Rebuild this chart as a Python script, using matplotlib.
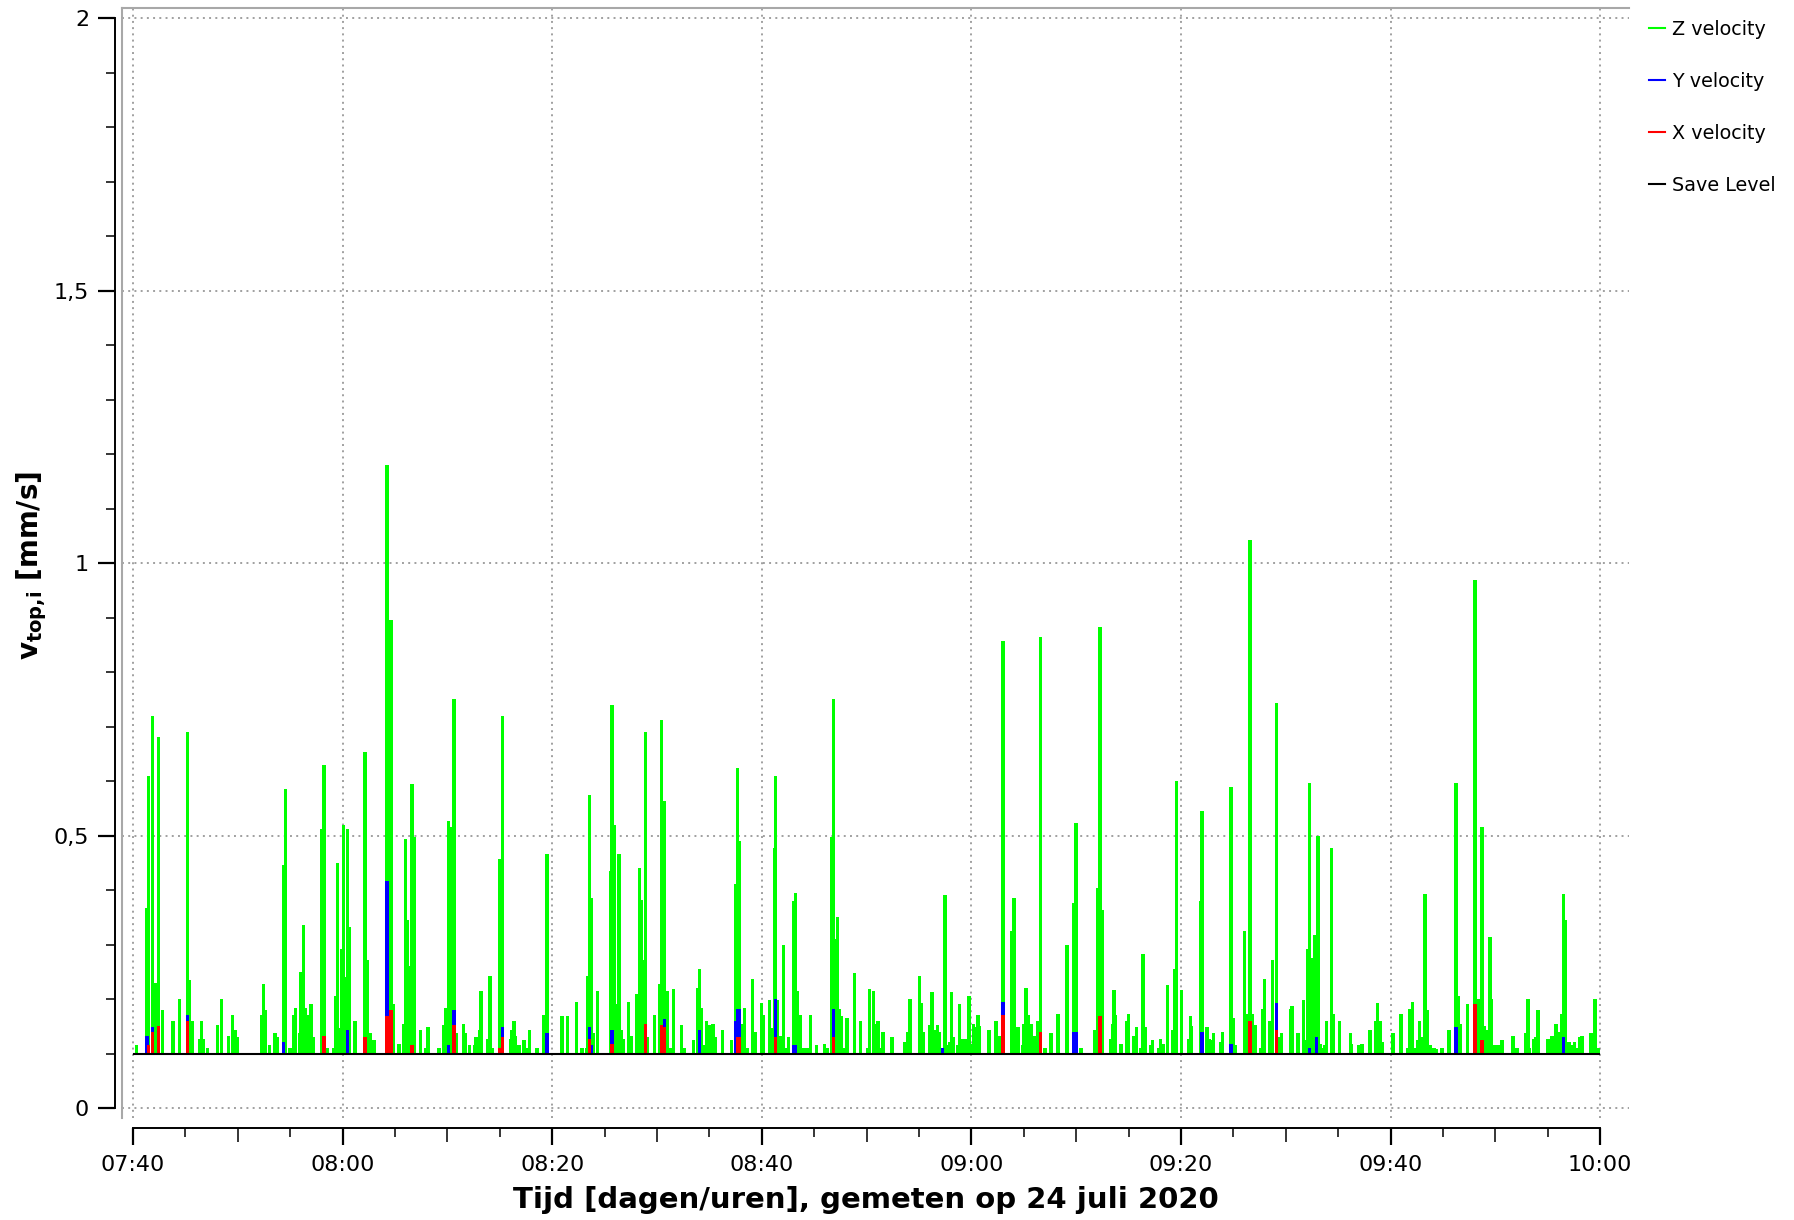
import matplotlib
matplotlib.use('Agg')
import numpy as np
import matplotlib.pyplot as plt
from matplotlib.lines import Line2D
from matplotlib.ticker import MultipleLocator, FuncFormatter

plt.rcParams['font.family'] = 'DejaVu Sans'
plt.rcParams['mathtext.fontset'] = 'dejavusans'

# time axis: minutes after 07:40 on 24 juli 2020
start_hour, start_min = 7, 40
save_level = 0.1

# Z velocity [mm/s]
z_t = [0.32, 1.34, 1.50, 1.85, 2.16, 2.45, 2.83, 3.82, 4.45, 5.22, 5.38, 5.66, 6.36, 6.55, 6.71, 7.09,
       8.08, 8.43, 9.10, 9.48, 9.76, 9.96, 12.28, 12.44, 12.63, 13.04, 13.55, 13.77, 14.38, 14.57, 14.98,
       15.30, 15.49, 15.90, 16.03, 16.25, 16.48, 16.70, 16.98, 17.21, 18.04, 18.23, 18.51, 19.18, 19.37,
       19.53, 19.75, 19.91, 20.07, 20.29, 20.48, 20.64, 21.18, 22.14, 22.36, 22.68, 23.00,
       24.23, 24.62, 24.87, 25.38, 25.86, 26.02, 26.21, 26.40, 26.62, 26.81, 27.45, 27.96, 28.15, 29.20,
       29.67, 29.80, 30.12, 30.44, 30.63, 30.82, 31.55, 31.74, 32.09, 32.57, 32.73, 33.08, 33.20, 33.87,
       34.06, 34.32, 35.02, 35.27, 36.00, 36.13, 36.35, 36.51, 36.83, 37.31, 37.63, 37.85, 38.55, 39.18,
       39.50, 40.93, 41.47, 42.30, 42.84, 43.29, 43.41, 43.57, 43.73, 43.96, 44.30, 45.55, 45.70, 45.90,
       46.02, 46.37, 46.63, 46.82,
       47.30, 47.55, 48.03, 48.31, 48.51, 48.70, 48.89, 49.11, 49.78, 50.26, 50.45, 50.73, 51.02, 51.30,
       51.59, 52.35, 52.64, 53.50, 53.88, 54.07, 54.23, 54.42, 54.74, 55.06, 55.34, 55.60, 56.27, 57.13,
       57.48, 57.70, 57.89, 58.08, 58.37, 58.59, 59.13, 59.38, 59.99, 60.18, 60.75, 60.97, 61.20, 61.29,
       61.48, 61.80, 62.06, 62.21, 62.56, 63.04, 63.23, 63.39, 63.71, 64.03, 64.31, 64.66, 65.24, 66.00,
       66.25, 66.70, 66.86, 67.05, 67.24, 67.40, 67.59, 67.84, 68.13, 68.86, 69.43, 70.13, 70.26,
       70.68, 70.90, 71.09, 71.31, 71.57, 72.43, 73.67, 73.95, 74.14, 75.03, 75.23, 75.45, 76.05, 76.24,
       76.37, 76.56, 76.78, 76.97, 77.23, 77.48, 77.77, 77.96, 78.12, 78.31, 78.72, 78.88, 79.14, 79.39,
       79.77, 80.06, 80.22, 80.41, 80.63, 80.79, 81.68, 82.35, 82.70, 83.02, 83.88, 84.07, 84.45, 84.86,
       84.99, 85.21, 85.40, 85.56, 85.75, 85.98, 86.13, 86.33, 86.61, 87.03, 87.60, 88.27, 89.12, 89.79,
       89.98, 90.46, 91.80, 92.08, 92.27, 92.46, 93.26, 93.45, 93.61,
       93.76, 94.27, 94.78, 94.97, 95.45, 95.73, 96.11, 96.37, 96.62, 97.07, 97.26, 97.86, 98.05, 98.31,
       98.75, 99.17, 99.36, 99.61, 100.06, 100.69, 100.89, 101.01, 101.84, 102.00, 102.48, 102.70, 102.98,
       103.14, 103.75, 103.94, 104.77, 104.96, 105.18, 106.10, 106.39, 106.58, 106.83, 107.15, 107.60,
       107.76, 107.95, 108.42, 108.77, 109.12, 109.41, 109.60, 110.43, 110.59, 111.16, 111.70, 111.89,
       112.11, 112.30, 112.49, 112.75, 112.91, 113.07, 113.26, 113.48, 113.67, 113.86, 114.40, 114.59,
       115.10, 116.15, 116.31, 116.92,
       117.27, 118.03, 118.60, 118.79, 118.99, 119.18, 120.23, 120.99, 121.66, 121.85, 122.13, 122.42,
       122.61, 122.80, 122.99, 123.28, 123.53, 123.76, 124.14, 124.33, 124.90, 125.57, 126.24, 126.43,
       126.62, 127.38, 128.05, 128.43, 128.72, 128.91, 129.20, 129.48, 129.64, 129.96, 130.28, 130.63,
       131.68, 131.96, 132.15, 132.92, 133.11, 133.27, 133.68, 133.87, 134.06, 135.02, 135.40, 135.59,
       135.78, 136.07, 136.35, 136.54, 136.73, 137.02, 137.31, 137.59, 137.88, 138.07, 138.26, 139.12,
       139.50, 139.79]
z_v = [0.115, 0.367, 0.61, 0.72, 0.23, 0.68, 0.18, 0.16, 0.20, 0.69, 0.235, 0.16, 0.126, 0.16, 0.126, 0.11,
       0.153, 0.20, 0.133, 0.17, 0.144, 0.13, 0.17, 0.228, 0.18, 0.115, 0.137, 0.13, 0.446, 0.585, 0.111,
       0.17, 0.184, 0.138, 0.25, 0.335, 0.184, 0.17, 0.19, 0.13, 0.512, 0.629, 0.111, 0.11, 0.206,
       0.45, 0.146, 0.292, 0.52, 0.24, 0.512, 0.333, 0.16, 0.653, 0.272, 0.137, 0.124,
       1.18, 0.896, 0.19, 0.118, 0.155, 0.493, 0.345, 0.26, 0.594, 0.497, 0.144, 0.111, 0.148, 0.11,
       0.153, 0.184, 0.526, 0.515, 0.75, 0.137, 0.155, 0.138, 0.115, 0.115, 0.13, 0.144, 0.214, 0.126,
       0.243, 0.11, 0.457, 0.72, 0.126, 0.144, 0.16, 0.133, 0.115, 0.124, 0.111, 0.144, 0.11, 0.17,
       0.466, 0.168, 0.168, 0.195, 0.11, 0.111, 0.243, 0.574, 0.386, 0.137, 0.214, 0.435, 0.74, 0.52,
       0.19, 0.466, 0.144, 0.126,
       0.195, 0.133, 0.21, 0.44, 0.382, 0.272, 0.69, 0.13, 0.17, 0.228, 0.712, 0.563, 0.214, 0.111,
       0.218, 0.153, 0.111, 0.124, 0.221, 0.255, 0.184, 0.115, 0.16, 0.153, 0.155, 0.13, 0.144, 0.124,
       0.411, 0.624, 0.49, 0.155, 0.184, 0.111, 0.236, 0.14, 0.192, 0.17, 0.199, 0.147, 0.477, 0.61,
       0.199, 0.133, 0.30, 0.111, 0.13, 0.38, 0.395, 0.214, 0.17, 0.11, 0.111, 0.17, 0.115, 0.118,
       0.111, 0.497, 0.75, 0.31, 0.35, 0.181, 0.168, 0.11, 0.166, 0.247, 0.16, 0.11, 0.218,
       0.214, 0.155, 0.16, 0.111, 0.14, 0.13, 0.122, 0.14, 0.20, 0.243, 0.192, 0.14, 0.153, 0.212,
       0.13, 0.144, 0.153, 0.14, 0.111, 0.39, 0.115, 0.122, 0.212, 0.13, 0.115, 0.19, 0.126, 0.126,
       0.206, 0.118, 0.155, 0.148, 0.17, 0.151, 0.144, 0.16, 0.133, 0.857, 0.324, 0.386, 0.148, 0.115,
       0.155, 0.221, 0.17, 0.14, 0.155, 0.133, 0.118, 0.16, 0.864, 0.11, 0.137, 0.172, 0.30, 0.376,
       0.523, 0.11, 0.144, 0.403, 0.882, 0.364, 0.126, 0.155, 0.217,
       0.17, 0.118, 0.16, 0.172, 0.133, 0.148, 0.11, 0.283, 0.148, 0.115, 0.124, 0.111, 0.126, 0.118,
       0.226, 0.144, 0.255, 0.60, 0.217, 0.126, 0.168, 0.151, 0.379, 0.545, 0.148, 0.126, 0.124,
       0.137, 0.122, 0.14, 0.589, 0.166, 0.115, 0.324, 0.172, 1.043, 0.172, 0.153, 0.111,
       0.181, 0.236, 0.16, 0.272, 0.743, 0.13, 0.138, 0.182, 0.188, 0.138, 0.198, 0.124,
       0.292, 0.596, 0.276, 0.317, 0.148, 0.50, 0.118, 0.11, 0.115, 0.16, 0.477, 0.172,
       0.16, 0.138, 0.118, 0.115,
       0.118, 0.144, 0.16, 0.192, 0.16, 0.122, 0.137, 0.172, 0.11, 0.182, 0.195, 0.111,
       0.124, 0.16, 0.13, 0.393, 0.18, 0.115, 0.111, 0.108, 0.11, 0.144, 0.596, 0.206,
       0.155, 0.19, 0.968, 0.20, 0.515, 0.151, 0.144, 0.314, 0.20, 0.115, 0.115, 0.124,
       0.133, 0.11, 0.111, 0.137, 0.20, 0.111, 0.126, 0.13, 0.18, 0.126, 0.133, 0.131,
       0.155, 0.14, 0.172, 0.393, 0.345, 0.122, 0.115, 0.122, 0.111, 0.13, 0.133, 0.137,
       0.20, 0.111]

# Y velocity [mm/s]
y_t = [1.34, 1.85, 5.22, 14.38, 20.48, 24.23, 30.12, 30.63, 35.27, 39.50, 43.57, 43.73, 45.70, 50.73,
       54.07, 57.48, 57.70, 57.89, 61.29, 63.04, 63.23, 66.86, 77.23, 83.02, 89.79, 89.98, 102.00,
       104.77, 109.12, 112.30, 112.91, 126.24, 136.54]
y_v = [0.133, 0.148, 0.17, 0.122, 0.144, 0.417, 0.115, 0.18, 0.148, 0.138, 0.148, 0.115, 0.144, 0.163,
       0.144, 0.16, 0.181, 0.181, 0.20, 0.115, 0.115, 0.182, 0.111, 0.195, 0.14, 0.14, 0.14,
       0.118, 0.192, 0.11, 0.13, 0.148, 0.13]

# X velocity [mm/s]
x_t = [1.50, 1.85, 2.45, 5.22, 18.23, 22.14, 24.23, 24.62, 26.62, 30.63, 35.02, 35.27, 43.57, 45.70,
       48.89, 50.45, 50.73, 57.70, 57.89, 61.29, 66.86, 83.02, 86.61, 92.27, 106.58, 109.12, 128.05, 128.72]
x_v = [0.115, 0.14, 0.15, 0.16, 0.133, 0.13, 0.168, 0.18, 0.115, 0.153, 0.11, 0.13, 0.126, 0.118,
       0.155, 0.153, 0.148, 0.13, 0.13, 0.13, 0.13, 0.17, 0.14, 0.168, 0.16, 0.144, 0.19, 0.124]

green, blue, red = '#00ff00', '#0000ff', '#ff0000'
grey = '#a8a8a8'

fig = plt.figure(figsize=(17.94, 12.2), dpi=100)
ax = fig.add_axes([122 / 1794, 1 - 1118 / 1220, 1507 / 1794, 1110.5 / 1220])

w = 0.3
ax.bar(z_t, np.array(z_v) - save_level, bottom=save_level, width=w, color=green, linewidth=0, zorder=2)
ax.bar(y_t, np.array(y_v) - save_level, bottom=save_level, width=w, color=blue, linewidth=0, zorder=2.1)
ax.bar(x_t, np.array(x_v) - save_level, bottom=save_level, width=w, color=red, linewidth=0, zorder=2.2)
ax.hlines(save_level, 0, 140, color='black', lw=1.5, zorder=3)

ax.set_xlim(-1.05, 142.75)
ax.set_ylim(-0.0183, 2.0193)

# detached black axes, grey frame on top/left
ax.spines['right'].set_visible(False)
ax.spines['top'].set_color(grey)
ax.spines['top'].set_linewidth(1.5)
for side, off in (('left', 5), ('bottom', 7.2)):
    ax.spines[side].set_position(('outward', off))
    ax.spines[side].set_linewidth(1.4)
    ax.spines[side].set_color('black')
ax.spines['left'].set_bounds(0, 2)
ax.spines['bottom'].set_bounds(0, 140)
ax.plot([0, 0], [0, 1], transform=ax.transAxes, color=grey, lw=1.5, clip_on=False, zorder=1)

ax.xaxis.set_major_locator(MultipleLocator(20))
ax.xaxis.set_minor_locator(MultipleLocator(5))
ax.yaxis.set_major_locator(MultipleLocator(0.5))
ax.yaxis.set_minor_locator(MultipleLocator(0.1))


def hhmm(m, pos):
    tot = start_hour * 60 + start_min + int(round(m))
    return f'{tot // 60:02d}:{tot % 60:02d}'


ax.xaxis.set_major_formatter(FuncFormatter(hhmm))
ax.yaxis.set_major_formatter(FuncFormatter(lambda v, p: f'{v:g}'.replace('.', ',')))
ax.tick_params(which='major', length=12.2, width=1.6, direction='out', labelsize=16)
ax.tick_params(which='minor', length=6.5, width=1.1, direction='out')
ax.tick_params(axis='y', which='major', pad=6.5)
ax.tick_params(axis='x', which='major', pad=7.5)

# 10 minute ticks a bit longer
for tick, loc in zip(ax.xaxis.get_minor_ticks(), ax.xaxis.get_minorticklocs()):
    if int(round(loc)) % 10 == 0:
        tick.tick1line.set_markersize(10)

ax.grid(True, which='major', color='#a0a0a0', linestyle=(0, (1, 2.2)), lw=1.4)
ax.set_axisbelow(True)

fig.text(866 / 1794, 1 - 1200 / 1220, 'Tijd [dagen/uren], gemeten op 24 juli 2020',
         ha='center', va='center', fontsize=21, fontweight='bold')
fig.text(32 / 1794, 1 - 566 / 1220, r'$\mathbf{v_{top{,}i}}$ [mm/s]', rotation=90,
         ha='center', va='center', fontsize=20, fontweight='bold')

handles = [Line2D([], [], color=c, lw=1.5) for c in (green, blue, red, 'black')]
labels = ['Z velocity', 'Y velocity', 'X velocity', 'Save Level']
fig.legend(handles, labels, loc='upper left', bbox_to_anchor=(1649 / 1794, 1 - 20 / 1220),
           frameon=False, fontsize=13.8, handlelength=0.85, handletextpad=0.35,
           labelspacing=1.72, borderpad=0, borderaxespad=0)

fig.savefig('out.png', dpi=100)
